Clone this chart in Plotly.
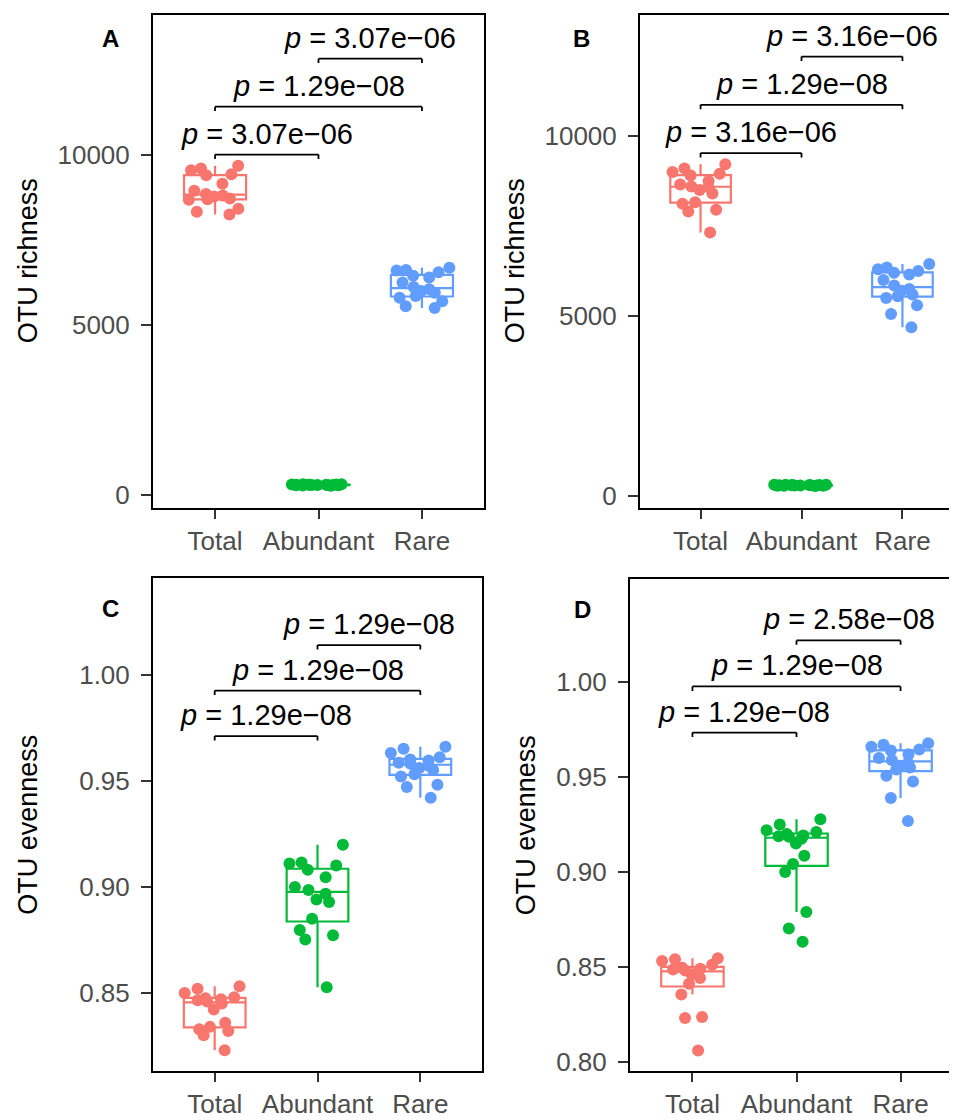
import numpy as np
import plotly.graph_objects as go

W, H = 957, 1120
FONT = "Liberation Sans"

categories = ["Total", "Abundant", "Rare"]
colors = ["#F8766D", "#00BA38", "#619CFF"]

# ---- Panel A: OTU richness ----
A_total = [9680, 9600, 9550, 9430, 9400, 9150, 8950, 8850, 8810, 8780, 8720, 8700, 8680, 8420, 8330, 8250]
A_abundant = [312, 298, 305, 287, 320, 294, 301, 309, 283, 316, 296, 303, 291, 308, 299, 278]
A_rare = [6680, 6620, 6600, 6550, 6450, 6400, 6250, 6120, 6050, 6000, 5950, 5850, 5800, 5700, 5550, 5500]
A_p = ["3.07e\u221206", "1.29e\u221208", "3.07e\u221206"]

# ---- Panel B: OTU richness ----
B_total = [9213, 9100, 9000, 8950, 8900, 8750, 8650, 8600, 8580, 8500, 8400, 8160, 8120, 7950, 7900, 7321]
B_abundant = [305, 290, 312, 296, 284, 318, 300, 293, 307, 288, 315, 298, 302, 280, 310, 295]
B_rare = [6443, 6350, 6300, 6250, 6200, 6150, 6000, 5850, 5750, 5700, 5600, 5550, 5500, 5300, 5058, 4690]
B_p = ["3.16e\u221206", "1.29e\u221208", "3.16e\u221206"]

# ---- Panel C: OTU evenness ----
C_total = [0.8531, 0.8520, 0.8500, 0.8480, 0.8475, 0.8470, 0.8465, 0.8460, 0.8450, 0.8422, 0.8360, 0.8340, 0.8329, 0.8320, 0.8300, 0.8230]
C_abundant = [0.9198, 0.9115, 0.9110, 0.9100, 0.9080, 0.9045, 0.8999, 0.8985, 0.8967, 0.8940, 0.8928, 0.8850, 0.8796, 0.8772, 0.8752, 0.8527]
C_rare = [0.9660, 0.9650, 0.9630, 0.9610, 0.9600, 0.9595, 0.9585, 0.9580, 0.9570, 0.9560, 0.9550, 0.9530, 0.9520, 0.9481, 0.9470, 0.9420]
C_p = ["1.29e\u221208", "1.29e\u221208", "1.29e\u221208"]

# ---- Panel D: OTU evenness ----
D_total = [0.8545, 0.8540, 0.8530, 0.8510, 0.8495, 0.8490, 0.8485, 0.8480, 0.8470, 0.8460, 0.8440, 0.8410, 0.8353, 0.8235, 0.8230, 0.8058]
D_abundant = [0.9277, 0.9250, 0.9220, 0.9210, 0.9200, 0.9192, 0.9188, 0.9185, 0.9175, 0.9150, 0.9085, 0.9042, 0.9000, 0.8789, 0.8702, 0.8632]
D_rare = [0.9678, 0.9670, 0.9660, 0.9645, 0.9640, 0.9620, 0.9600, 0.9590, 0.9575, 0.9560, 0.9550, 0.9540, 0.9507, 0.9477, 0.9390, 0.9268]
D_p = ["1.29e\u221208", "1.29e\u221208", "2.58e\u221208"]

comparisons = [("Total", "Abundant"), ("Total", "Rare"), ("Abundant", "Rare")]

panels = [
    dict(label="A", data=[A_total, A_abundant, A_rare], p=A_p, title="OTU richness",
         xdom=(145, 476), ydom=(7, 502), yrange=[-372, 14114], tickvals=[0, 5000, 10000], fmt="d",
         lab_xy=(102, 31), title_x=20),
    dict(label="B", data=[B_total, B_abundant, B_rare], p=B_p, title="OTU richness",
         xdom=(632, 955), ydom=(7, 502), yrange=[-324, 13360], tickvals=[0, 5000, 10000], fmt="d",
         lab_xy=(573, 31), title_x=507),
    dict(label="C", data=[C_total, C_abundant, C_rare], p=C_p, title="OTU evenness",
         xdom=(145, 474), ydom=(573, 1068), yrange=[0.8131, 1.0453], tickvals=[0.85, 0.90, 0.95, 1.00], fmt=".2f",
         lab_xy=(102, 603), title_x=20),
    dict(label="D", data=[D_total, D_abundant, D_rare], p=D_p, title="OTU evenness",
         xdom=(622, 955), ydom=(574, 1068), yrange=[0.7949, 1.0542], tickvals=[0.80, 0.85, 0.90, 0.95, 1.00], fmt=".2f",
         lab_xy=(574, 604), title_x=518),
]

fig = go.Figure()
shapes = []
annotations = []


def box_stats(v):
    v = np.asarray(v, dtype=float)
    q1, med, q3 = np.percentile(v, [25, 50, 75])
    iqr = q3 - q1
    lo = v[v >= q1 - 1.5 * iqr].min()
    hi = v[v <= q3 + 1.5 * iqr].max()
    return q1, med, q3, lo, hi


for i, pn in enumerate(panels):
    sfx = "" if i == 0 else str(i + 1)
    xa, ya = "x" + sfx, "y" + sfx
    # boxes
    for cat, col, vals in zip(categories, colors, pn["data"]):
        q1, med, q3, lo, hi = box_stats(vals)
        fig.add_trace(go.Box(
            x=[cat], q1=[q1], median=[med], q3=[q3], lowerfence=[lo], upperfence=[hi],
            width=0.6, whiskerwidth=0, line=dict(color=col, width=2.2), fillcolor="white",
            boxpoints=False, showlegend=False, xaxis=xa, yaxis=ya, hoverinfo="skip"))
    # jittered points
    for cat, col, vals in zip(categories, colors, pn["data"]):
        fig.add_trace(go.Box(
            x=[cat] * len(vals), y=vals, width=0.6, boxpoints="all", jitter=1.0, pointpos=0,
            line=dict(color="rgba(0,0,0,0)", width=0), fillcolor="rgba(0,0,0,0)",
            marker=dict(color=col, size=12, opacity=1), showlegend=False,
            xaxis=xa, yaxis=ya))

    # significance brackets derived from data
    allv = np.concatenate([np.asarray(d, float) for d in pn["data"]])
    vmax, vmin = allv.max(), allv.min()
    rng = vmax - vmin
    span = pn["yrange"][1] - pn["yrange"][0]
    tip = 0.009 * span
    for k, ((g1, g2), lab) in enumerate(zip(comparisons, pn["p"])):
        yb = vmax + rng * (0.035 + 0.15 * k)
        x1, x2 = categories.index(g1), categories.index(g2)
        ln = dict(color="black", width=1.8)
        shapes.append(dict(type="line", xref=xa, yref=ya, x0=x1, x1=x2, y0=yb, y1=yb, line=ln))
        shapes.append(dict(type="line", xref=xa, yref=ya, x0=x1, x1=x1, y0=yb, y1=yb - tip, line=ln))
        shapes.append(dict(type="line", xref=xa, yref=ya, x0=x2, x1=x2, y0=yb, y1=yb - tip, line=ln))
        annotations.append(dict(xref=xa, yref=ya, x=(x1 + x2) / 2, y=yb, text="<i>p</i> = " + lab,
                                showarrow=False, xanchor="center", yanchor="bottom", yshift=3,
                                font=dict(family=FONT, size=29, color="black")))

    # panel label
    annotations.append(dict(xref="paper", yref="paper", x=pn["lab_xy"][0] / W, y=1 - pn["lab_xy"][1] / H,
                            text="<b>" + pn["label"] + "</b>", showarrow=False, xanchor="center", yanchor="middle",
                            font=dict(family=FONT, size=24, color="black")))
    # y title
    yc = (pn["ydom"][0] + pn["ydom"][1]) / 2
    annotations.append(dict(xref="paper", yref="paper", x=pn["title_x"] / W, y=1 - yc / H,
                            text=pn["title"], textangle=-90, showarrow=False, xanchor="center", yanchor="middle",
                            font=dict(family=FONT, size=27, color="black")))

    axcommon = dict(showline=True, mirror=True, linecolor="black", linewidth=2, ticks="outside",
                    tickwidth=2, tickcolor="#333333", showgrid=False, zeroline=False,
                    tickfont=dict(family=FONT, size=26, color="#4D4D4D"))
    fig.update_layout(**{
        "xaxis" + sfx: dict(domain=[pn["xdom"][0] / W, pn["xdom"][1] / W], anchor=ya, type="category",
                            categoryorder="array", categoryarray=categories, range=[-0.6, 2.6],
                            ticklen=9, ticklabelstandoff=0, **axcommon),
        "yaxis" + sfx: dict(domain=[1 - pn["ydom"][1] / H, 1 - pn["ydom"][0] / H], anchor=xa,
                            range=pn["yrange"], tickvals=pn["tickvals"], tickformat=pn["fmt"],
                            ticklen=10, ticklabelstandoff=6, **axcommon),
    })

fig.update_layout(width=W, height=H, margin=dict(l=0, r=0, t=0, b=0), plot_bgcolor="white",
                  paper_bgcolor="white", boxmode="overlay", shapes=shapes, annotations=annotations,
                  showlegend=False, font=dict(family=FONT))

fig.write_html("out.html")
